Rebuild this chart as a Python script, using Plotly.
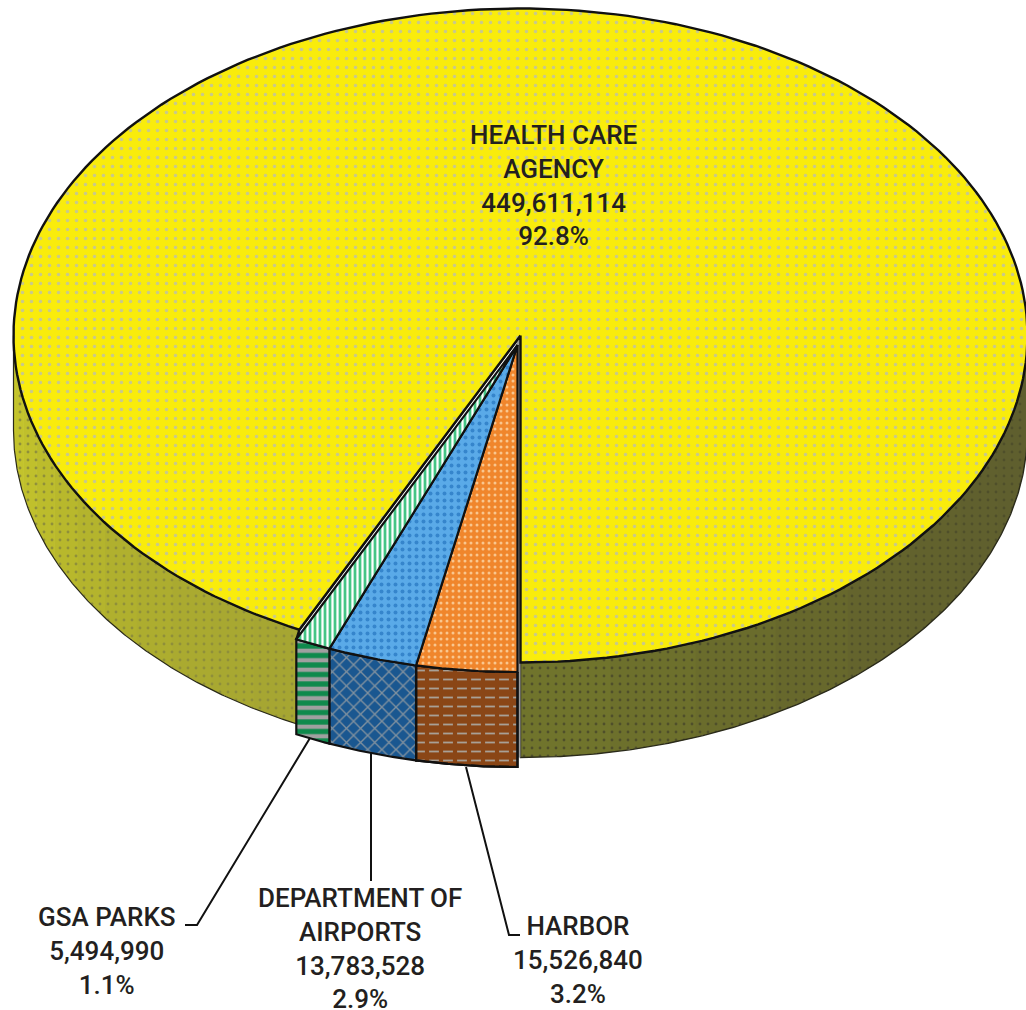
import numpy as np
import plotly.graph_objects as go

# ---- data ----
names = ["HARBOR", "DEPARTMENT OF AIRPORTS", "GSA PARKS", "HEALTH CARE AGENCY"]
values = [15526840, 13783528, 5494990, 449611114]
percents = ["3.2%", "2.9%", "1.1%", "92.8%"]
top_colors = ["#f0862c", "#5aaae8", "#45c585", "#f9ec0c"]
dot_colors = ["#f9c68e", "#3585cc", "#ffffff", "#c9c98a"]
side_colors = ["#8a4616", "#1a5790", "#0f8a4c"]
side_pattern = ["#a8a096", "#7f909e", "#a0a0a0"]
left_wall_shades = ["#a6a632", "#a8a831", "#aaaa30", "#adad2f", "#b0b02e", "#b4b42d",
                    "#b8b82c", "#bcbc2c", "#c0c02c", "#c3c32c", "#c6c62c"]
right_wall_shades = ["#5e5e2e", "#5f5f2e", "#60602e", "#62622d", "#64642d", "#67682c",
                     "#6a6c2c", "#6d702c", "#70742c"]

RX, RY, DEPTH = 507, 327, 95
BIG_C = (520.5, 335.5)
SMALL_C = (517.5, 345)

fig = go.Figure()
total = sum(values)
angles = 180 + np.concatenate([[0], np.cumsum(values)]) / total * 360


def arc(c, a0, a1, dy=0, n=240):
    t = np.radians(np.linspace(a0, a1, n))
    return c[0] + RX * np.sin(t), c[1] - RY * np.cos(t) + dy


def poly(x, y, fill, pat=None, lw=2.2, lc="#111111"):
    kw = {}
    if pat:
        kw["fillpattern"] = dict(fillmode="replace", bgcolor=fill, fgcolor=pat[0],
                                 shape=pat[1], size=pat[2], solidity=pat[3])
    fig.add_trace(go.Scatter(x=x, y=y, mode="lines", fill="toself", fillcolor=fill,
                             line=dict(color=lc if lw else fill, width=lw), hoverinfo="skip",
                             showlegend=False, **kw))


def side(c, a0, a1, fill, pat, lw=1.6):
    x0, y0 = arc(c, a0, a1, n=80)
    x1, y1 = arc(c, a1, a0, DEPTH, n=80)
    poly(np.r_[x0, x1, x0[0]], np.r_[y0, y1, y0[0]], fill, pat, lw)


def outline(c, a0, a1, lw):
    x0, y0 = arc(c, a0, a1)
    x1, y1 = arc(c, a1, a0, DEPTH)
    fig.add_trace(go.Scatter(x=np.r_[x0, x1, x0[0]], y=np.r_[y0, y1, y0[0]], mode="lines",
                             line=dict(color="#2a2a1a", width=lw), hoverinfo="skip", showlegend=False))


# big slice: walls
edges = np.linspace(90, 180, len(right_wall_shades) + 1)
for k, shade in enumerate(right_wall_shades):
    side(BIG_C, edges[k] - 0.2, edges[k + 1], shade, ("#4f4f2a", ".", 8, 0.1), 0)
outline(BIG_C, 90, 180, 1.4)
edges = np.linspace(angles[3], 270, len(left_wall_shades) + 1)
for k, shade in enumerate(left_wall_shades):
    side(BIG_C, edges[k], edges[k + 1] + 0.2, shade, ("#8f8f3a", ".", 8, 0.1), 0)
outline(BIG_C, angles[3], 270, 1.2)

# slivers between the big slice and the pulled-out slices
xb, yb = arc(BIG_C, angles[3], angles[3], n=1)
xs, ys = arc(SMALL_C, angles[3], angles[3], n=1)
poly(np.r_[BIG_C[0], xb, xs, xs, xb, BIG_C[0]], np.r_[BIG_C[1], yb, ys, ys, yb, BIG_C[1]],
     "#8f8f30", None, 2.2)
xb, yb = arc(BIG_C, 180, 180, n=1)
poly(np.r_[BIG_C[0], xb, xb, BIG_C[0] - 4, BIG_C[0] - 4],
     np.r_[BIG_C[1], yb, yb + DEPTH, yb + DEPTH, BIG_C[1]], "#9c9c9c", None, 0)

# big slice: top
ax, ay = arc(BIG_C, angles[3], angles[4])
poly(np.r_[BIG_C[0], ax, BIG_C[0]], np.r_[BIG_C[1], ay, BIG_C[1]], top_colors[3],
     (dot_colors[3], ".", 9, 0.12), 2.4)

# small slices
pats_top = [(dot_colors[0], ".", 6, 0.2), (dot_colors[1], ".", 7, 0.25), (dot_colors[2], "|", 5, 0.45)]
pats_side = [(side_pattern[0], "-", 9, 0.2), (side_pattern[1], "x", 10, 0.25), (side_pattern[2], "-", 9.5, 0.45)]
for i in range(3):
    side(SMALL_C, angles[i], angles[i + 1], side_colors[i], pats_side[i], 2.2)
# break the brown stripes into dashes
x0, y0 = arc(SMALL_C, angles[0], angles[1], n=80)
x1, y1 = arc(SMALL_C, angles[1], angles[0], DEPTH, n=80)
fig.add_trace(go.Scatter(x=np.r_[x0, x1, x0[0]], y=np.r_[y0, y1, y0[0]], mode="lines", fill="toself",
                         fillcolor="rgba(0,0,0,0)", line=dict(color="#111111", width=2.2),
                         fillpattern=dict(fillmode="replace", bgcolor="rgba(0,0,0,0)", fgcolor=side_colors[0],
                                          fgopacity=1, shape="|", size=14, solidity=0.3),
                         hoverinfo="skip", showlegend=False))
for i in range(3):
    ax, ay = arc(SMALL_C, angles[i], angles[i + 1], n=40)
    poly(np.r_[SMALL_C[0], ax, SMALL_C[0]], np.r_[SMALL_C[1], ay, SMALL_C[1]], top_colors[i], pats_top[i], 2.2)

# ---- labels ----
FONT = dict(family="Roboto, Liberation Sans, sans-serif", size=26, color="#231f20", weight=500)


def label(i, x, y, wrap):
    fig.add_annotation(x=x, y=y, xref="x", yref="y", showarrow=False, align="center",
                       text="<br>".join([*wrap, f"{values[i]:,}", percents[i]]), font=FONT)


label(3, 553, 185, ["HEALTH CARE", "AGENCY"])
label(2, 107, 951, ["GSA PARKS"])
label(1, 360, 948, ["DEPARTMENT OF", "AIRPORTS"])
label(0, 578, 960, ["HARBOR"])

leaders = ["M310,738 L197,925 L185,925", "M371,752 L371,881", "M466,767 L509,935 L520,935"]
fig.update_layout(
    shapes=[dict(type="path", path=p, line=dict(color="#111111", width=2)) for p in leaders],
    width=1026, height=1010, margin=dict(l=0, r=0, t=0, b=0),
    paper_bgcolor="white", plot_bgcolor="white", showlegend=False,
    xaxis=dict(range=[0, 1026], visible=False, fixedrange=True),
    yaxis=dict(range=[1010, 0], visible=False, fixedrange=True),
)
fig.write_html("out.html", config=dict(displayModeBar=False),
               post_script="document.body.style.margin='0';document.body.style.overflow='hidden';")
